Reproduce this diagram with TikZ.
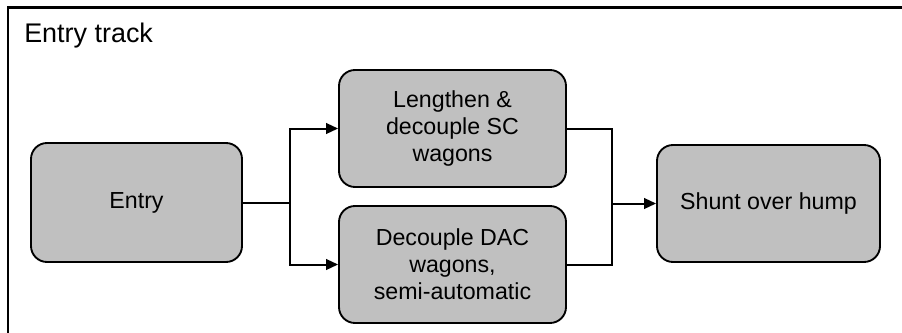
\documentclass[tikz,border=0pt]{standalone}
\usepackage{fontspec}
\setmainfont{Liberation Sans}
\usetikzlibrary{arrows.meta}
\begin{document}
\begin{tikzpicture}[x=0.75pt,y=-0.75pt,
  procbox/.style={draw=black,line width=1.4pt,fill={rgb,255:red,192;green,192;blue,192},
    rounded corners=12pt,align=center,inner sep=0pt,
    font=\fontsize{17.4pt}{20.3pt}\selectfont},
  conn/.style={draw=black,line width=1.5pt},
  arr/.style={conn,-{Triangle[length=9pt,width=8pt]}}]
\useasboundingbox (0,0) rectangle (902,332);
% frame
\draw[line width=2pt] (8,340) -- (8,7.5) -- (905,7.5);
\node[anchor=base west,inner sep=0pt,font=\fontsize{20.2pt}{24pt}\selectfont] (title) at (24,42) {Entry track};
% boxes
\node[procbox,minimum width=211*0.75pt,minimum height=119*0.75pt] (entry) at (136.5,202.5) {Entry};
\node[procbox,minimum width=227*0.75pt,minimum height=117*0.75pt] (len) at (452.5,128.5) {Lengthen \&\\decouple SC\\wagons};
\node[procbox,minimum width=227*0.75pt,minimum height=117*0.75pt] (dac) at (452.5,264.5) {Decouple DAC\\wagons,\\semi-automatic};
\node[procbox,minimum width=223*0.75pt,minimum height=117*0.75pt] (shunt) at (768.5,203.5) {Shunt over hump};
% junctions
\coordinate (j1) at (290,202.5);
\coordinate (j2) at (612,203.5);
% connectors
\draw[conn] (entry.east) -- (j1);
\draw[arr] (j1) |- (len.west);
\draw[arr] (j1) |- (dac.west);
\draw[conn] (len.east) -| (j2);
\draw[conn] (dac.east) -| (j2);
\draw[arr] (j2) -- (shunt.west);
\end{tikzpicture}
\end{document}
